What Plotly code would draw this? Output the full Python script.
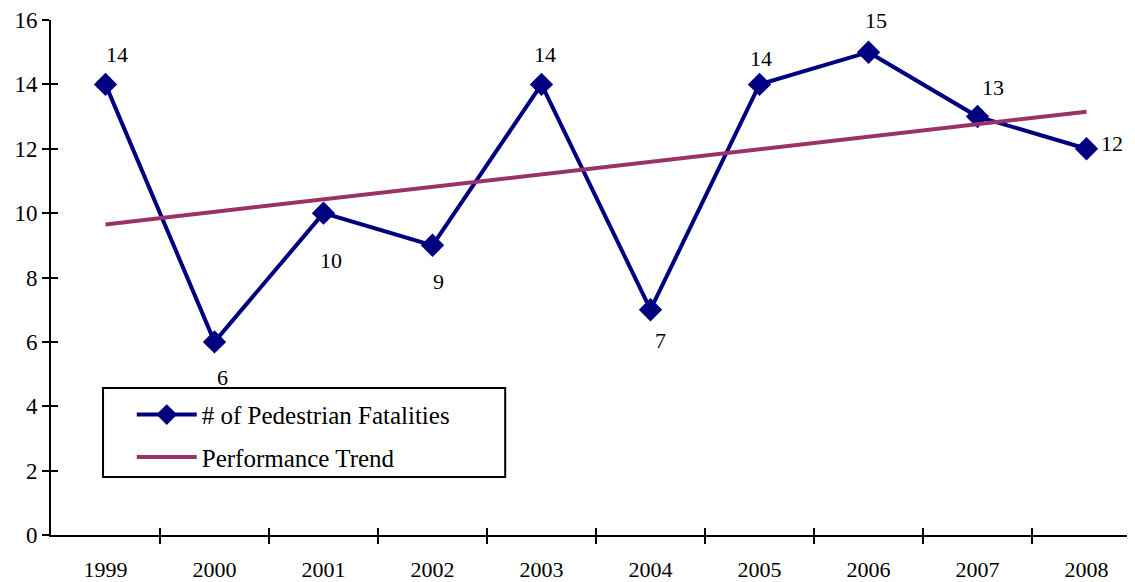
import plotly.graph_objects as go

years = ["1999", "2000", "2001", "2002", "2003", "2004", "2005", "2006", "2007", "2008"]
fatalities = [14, 6, 10, 9, 14, 7, 14, 15, 13, 12]
trend = [9.65, 10.04, 10.43, 10.82, 11.2, 11.59, 11.98, 12.37, 12.76, 13.15]

# label offsets in px (x, y) for each data label
label_shift = [(11, 30), (8, -36), (7, -47), (6, -36), (3, 30),
               (10, -31), (1, 26), (7, 32), (15, 29), (25, 5)]

xpos = list(range(len(years)))
bounds = [i + 0.5 for i in xpos[:-1]]
# the original chart runs a little past the right edge of the picture
x_range = [-0.5, 9.445]

font = "Liberation Serif"
navy = "#000080"
plum = "#993366"

fig = go.Figure()
fig.add_trace(go.Scatter(
    x=xpos, y=fatalities, mode="lines+markers", name="# of Pedestrian Fatalities",
    line=dict(color=navy, width=4), legendgroup="a",
    marker=dict(symbol="diamond", size=18, color=navy),
))
fig.add_trace(go.Scatter(
    x=xpos, y=trend, mode="lines", name="Performance Trend", legendgroup="b",
    line=dict(color=plum, width=4), xaxis="x2", yaxis="y2",
))

for i, v in enumerate(fatalities):
    dx, dy = label_shift[i]
    fig.add_annotation(x=i, y=v, text=str(v), showarrow=False,
                       xshift=dx, yshift=dy, font=dict(size=22, color="black"))

# legend frame (page body has an 8px margin, so the figure is a bit smaller)
fig.add_shape(type="rect", xref="paper", yref="paper",
              x0=0.048, x1=0.419, y0=0.1126, y1=0.2854,
              line=dict(color="black", width=2), fillcolor="white", layer="above")

fig.update_layout(
    width=1127, height=574,
    margin=dict(l=43, r=0, t=12, b=47),
    plot_bgcolor="white", paper_bgcolor="white",
    font=dict(family=font, size=22, color="black"),
    showlegend=True,
    legend=dict(x=0.0745, y=0.278, xanchor="left", yanchor="top",
                borderwidth=0, bgcolor="rgba(0,0,0,0)",
                font=dict(size=25), itemwidth=60, tracegroupgap=7),
    xaxis=dict(range=x_range, tickmode="array", tickvals=xpos, ticktext=years,
               ticks="", showgrid=False, zeroline=False, showline=True,
               linecolor="black", linewidth=2, automargin=False,
               ticklabelstandoff=14, ticklabeloverflow="allow",
               minor=dict(tickmode="array", tickvals=bounds, ticks="outside",
                          ticklen=7, tickwidth=2, tickcolor="black")),
    xaxis2=dict(range=x_range, overlaying="x", anchor="y", side="bottom",
                tickmode="array", tickvals=bounds, ticks="inside", ticklen=7,
                tickwidth=2, tickcolor="black", showticklabels=False,
                showgrid=False, zeroline=False, showline=False, automargin=False),
    yaxis=dict(range=[0, 16], dtick=2, ticks="outside", ticklen=7, tickwidth=2,
               tickcolor="black", showgrid=False, zeroline=False, showline=True,
               linecolor="black", linewidth=2, automargin=False,
               ticklabeloverflow="allow", tickfont=dict(size=23)),
    yaxis2=dict(range=[0, 16], dtick=2, overlaying="y", anchor="x", side="left",
                ticks="inside", ticklen=7, tickwidth=2, tickcolor="black",
                showticklabels=False, showgrid=False, zeroline=False,
                showline=False, automargin=False),
)

fig.write_html("out.html")
